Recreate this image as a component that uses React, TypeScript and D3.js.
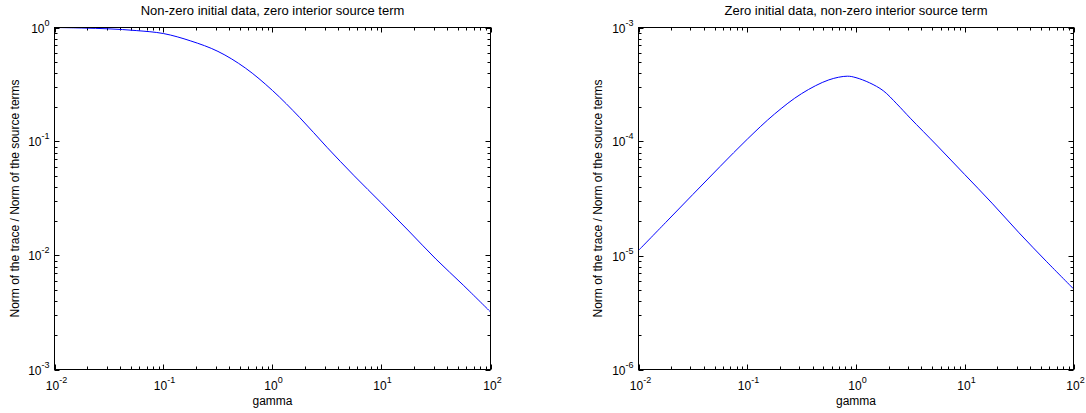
import React from 'react';
import * as d3 from 'd3';

// gamma samples and the plotted ratios
const gammaLeft = [0.01, 0.0178, 0.0316, 0.0562, 0.1, 0.178, 0.316, 0.562, 1, 1.78, 3.16, 5.62, 10, 17.8, 31.6, 56.2, 100];
const traceLeft = [1.0, 0.99, 0.973, 0.94, 0.885, 0.762, 0.617, 0.442, 0.28, 0.162, 0.089, 0.05, 0.0288, 0.0164, 0.0093, 0.0055, 0.0032];

const gammaRight = [0.01, 0.0178, 0.0316, 0.0562, 0.1, 0.178, 0.316, 0.562, 0.832, 1, 1.334, 1.78, 2.371, 3.16, 5.62, 10, 17.8, 31.6, 56.2, 100];
const traceRight = [1.107e-5, 1.95e-5, 3.43e-5, 6.03e-5, 1.047e-4, 1.74e-4, 2.63e-4, 3.47e-4, 3.74e-4, 3.63e-4, 3.27e-4, 2.79e-4, 2.14e-4, 1.6e-4, 9.12e-5, 5.13e-5, 2.88e-5, 1.58e-5, 8.9e-6, 5.1e-6];

const xExponents = [-2, -1, 0, 1, 2];
const yExponentsLeft = [0, -1, -2, -3];
const yExponentsRight = [-3, -4, -5, -6];

const titles = [
    'Non-zero initial data, zero interior source term',
    'Zero initial data, non-zero interior source term'
];
const yLabel = 'Norm of the trace / Norm of the source terms';
const xLabel = 'gamma';

const font = '"Liberation Sans", Arial, Helvetica, sans-serif';

const minorValues = (exps: number[]) => {
    const lo = Math.min(...exps), hi = Math.max(...exps);
    const out: number[] = [];
    for (let d = lo; d < hi; d++) {
        for (let k = 2; k <= 9; k++) out.push(k * Math.pow(10, d));
    }
    return out;
};

function Panel({ x0, x1, y0, y1, gamma, trace, yExps, title, labelX }: any) {

    const xScale = d3.scaleLog().domain([0.01, 100]).range([x0, x1]);
    const yScale = d3.scaleLog().domain([Math.pow(10, Math.min(...yExps)), Math.pow(10, Math.max(...yExps))]).range([y1, y0]);

    const line = d3.line<number>()
        .x((d, i) => xScale(gamma[i]))
        .y(d => yScale(d))
        .curve(d3.curveCatmullRom.alpha(0.5));

    const xMinor = minorValues(xExponents);
    const yMinor = minorValues(yExps);
    const major = 5, minor = 3;
    const cx = (x0 + x1) / 2, cy = (y0 + y1) / 2;

    return <g>
        <text x={cx} y={15} textAnchor="middle" fontSize={13} fontFamily={font}>{title}</text>

        {/* x ticks, bottom and top */}
        {xExponents.map(e => {
            const x = Math.round(xScale(Math.pow(10, e))) + 0.5;
            return <g key={'xm' + e}>
                <line x1={x} x2={x} y1={y1} y2={y1 - major} stroke="#000" />
                <line x1={x} x2={x} y1={y0} y2={y0 + major} stroke="#000" />
                <text x={x + 1} y={390} textAnchor="middle" fontSize={12} fontFamily={font}>
                    10<tspan dy={-7} fontSize={9}>{e}</tspan>
                </text>
            </g>
        })}
        {xMinor.map((v, i) => {
            const x = Math.round(xScale(v)) + 0.5;
            return <g key={'xn' + i}>
                <line x1={x} x2={x} y1={y1} y2={y1 - minor} stroke="#000" />
                <line x1={x} x2={x} y1={y0} y2={y0 + minor} stroke="#000" />
            </g>
        })}

        {/* y ticks, left and right */}
        {yExps.map((e: number) => {
            const y = Math.round(yScale(Math.pow(10, e))) + 0.5;
            return <g key={'ym' + e}>
                <line x1={x0} x2={x0 + major} y1={y} y2={y} stroke="#000" />
                <line x1={x1} x2={x1 - major} y1={y} y2={y} stroke="#000" />
                <text x={x0 - 5} y={y + 4} textAnchor="end" fontSize={12} fontFamily={font}>
                    10<tspan dy={-7} fontSize={9}>{e}</tspan>
                </text>
            </g>
        })}
        {yMinor.map((v, i) => {
            const y = Math.round(yScale(v)) + 0.5;
            return <g key={'yn' + i}>
                <line x1={x0} x2={x0 + minor} y1={y} y2={y} stroke="#000" />
                <line x1={x1} x2={x1 - minor} y1={y} y2={y} stroke="#000" />
            </g>
        })}

        <path d={line(trace) || ''} fill="none" stroke="#0000ff" strokeWidth={1} />

        <rect x={x0} y={y0} width={x1 - x0} height={y1 - y0} fill="none" stroke="#000" />

        <text x={cx} y={405} textAnchor="middle" fontSize={12} fontFamily={font}>{xLabel}</text>
        <text transform={`translate(${labelX},${cy}) rotate(-90)`} textAnchor="middle" fontSize={12} fontFamily={font}>{yLabel}</text>
    </g>
}

export default function App() {
    return <svg width={1086} height={413} style={{ position: 'absolute', left: 0, top: 0, background: '#fff' }}>
        <rect width={1086} height={413} fill="#fff" />
        <Panel x0={54.5} x1={490.5} y0={27.5} y1={369.5} gamma={gammaLeft} trace={traceLeft}
            yExps={yExponentsLeft} title={titles[0]} labelX={19} />
        <Panel x0={638.5} x1={1073.5} y0={27.5} y1={369.5} gamma={gammaRight} trace={traceRight}
            yExps={yExponentsRight} title={titles[1]} labelX={602} />
    </svg>
}
